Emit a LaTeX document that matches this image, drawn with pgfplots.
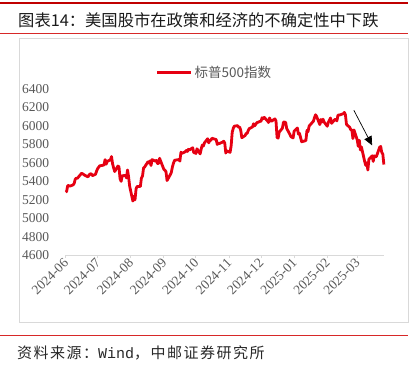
\documentclass[border=0pt]{standalone}
\usepackage{pgfplots}
\pgfplotsset{compat=1.18}
\usepackage{pgfplotstable}
\usepackage{fontspec}
\setmainfont{Liberation Serif}
\newfontfamily\cjk{Noto Sans CJK SC}
\newfontfamily\cjksrc[LetterSpace=10]{Noto Sans CJK SC}
\newfontfamily\monof{Liberation Mono}
\usetikzlibrary{arrows.meta}
\definecolor{spred}{RGB}{230,0,18}
\definecolor{tickgray}{RGB}{89,89,89}
\definecolor{framegray}{RGB}{217,217,217}
\definecolor{darkred}{RGB}{192,0,0}
\definecolor{midred}{RGB}{215,40,40}

\pgfplotstableread{
x y
0 5283.40
1 5291.34
2 5354.03
3 5352.96
4 5346.99
7 5360.79
8 5375.32
9 5421.03
10 5433.74
11 5431.60
14 5473.23
15 5487.03
17 5473.17
18 5464.62
21 5447.87
22 5469.30
23 5477.90
24 5482.87
25 5460.48
28 5475.09
29 5509.01
30 5537.02
32 5567.19
35 5572.85
36 5576.98
37 5633.91
38 5584.54
39 5615.35
42 5631.22
43 5667.20
44 5588.27
45 5544.59
46 5505.00
49 5564.41
50 5555.74
51 5427.13
52 5399.22
53 5459.10
56 5463.54
57 5436.44
58 5522.30
59 5446.68
60 5346.56
63 5186.33
64 5240.03
65 5199.50
66 5319.31
67 5344.16
70 5344.39
71 5434.43
72 5455.21
73 5543.22
74 5554.25
77 5608.25
78 5597.12
79 5620.85
80 5570.64
81 5634.61
84 5616.84
85 5625.80
86 5592.18
87 5591.96
88 5648.40
92 5528.93
93 5520.07
94 5503.41
95 5408.42
98 5471.05
99 5495.52
100 5554.13
101 5595.76
102 5626.02
105 5633.09
106 5634.58
107 5618.26
108 5713.64
109 5702.55
112 5718.57
113 5732.93
114 5722.26
115 5745.37
116 5738.17
119 5762.48
120 5708.75
121 5709.54
122 5699.94
123 5751.07
126 5695.94
127 5751.13
128 5792.04
129 5780.05
130 5815.03
133 5859.85
134 5815.26
135 5842.47
136 5841.47
137 5864.67
140 5853.98
141 5851.20
142 5797.42
143 5809.86
144 5808.12
147 5823.52
148 5832.92
149 5813.67
150 5705.45
151 5728.80
154 5712.69
155 5782.76
156 5929.04
157 5973.10
158 5995.54
161 6001.35
162 5983.99
163 5985.38
164 5949.17
165 5870.62
168 5893.62
169 5916.98
170 5917.11
171 5948.71
172 5969.34
175 5987.37
176 6021.63
177 5998.74
179 6032.38
182 6047.15
183 6049.88
184 6086.49
185 6075.11
186 6090.27
189 6052.85
190 6034.91
191 6084.19
192 6051.25
193 6051.09
196 6074.08
197 6050.61
198 5872.16
199 5867.08
200 5930.85
203 5974.07
204 6040.04
206 6037.59
207 5970.84
210 5906.94
211 5881.63
213 5868.55
214 5942.47
217 5975.38
218 5909.03
219 5918.25
221 5827.04
224 5836.22
225 5842.91
226 5949.91
227 5937.34
228 5996.66
232 6049.24
233 6086.37
234 6118.71
235 6101.24
238 6012.28
239 6067.70
240 6039.31
241 6071.17
242 6040.53
245 5994.57
246 6037.88
247 6061.48
248 6083.57
249 6025.99
252 6066.44
253 6068.50
254 6051.97
255 6115.07
256 6114.63
260 6129.58
261 6144.15
262 6117.52
263 6013.13
266 5983.25
267 5955.25
268 5956.06
269 5861.57
270 5954.50
273 5849.72
274 5778.15
275 5842.63
276 5738.52
277 5770.20
280 5614.56
281 5572.07
282 5599.30
283 5521.52
284 5638.94
287 5675.12
288 5614.66
289 5675.29
290 5662.89
291 5667.56
294 5767.57
295 5776.65
296 5712.20
297 5693.31
298 5580.94
}\spx

\begin{document}
\begin{tikzpicture}[x=1pt,y=1pt]
\useasboundingbox (0,0) rectangle (419,365);
\fill[white] (0,0) rectangle (419,365);
\draw[line width=2pt, darkred] (0,361.5) -- (408,361.5);
\node[anchor=west, inner sep=0, text={rgb,255:red,26;green,26;blue,26}, font=\cjk\fontsize{16.3}{18}\selectfont] at (18,345) {图表14：美国股市在政策和经济的不确定性中下跌};
\draw[line width=1.3pt, midred] (0,331.5) -- (408,331.5);
\draw[framegray, line width=0.8pt] (19.3,43) rectangle (408,326.7);
\begin{axis}[
  at={(61.4,118.5)}, anchor=south west,
  scale only axis, width=318.3pt, height=166.6pt,
  xmin=0, xmax=298, ymin=4600, ymax=6400,
  axis x line*=bottom, axis y line*=left,
  y axis line style={draw=none},
  x axis line style={framegray, line width=0.8pt},
  ytick style={draw=none},
  xtick style={framegray, line width=0.8pt},
  tick align=outside, major tick length=3pt,
  ytick={4600,4800,...,6400},
  yticklabel style={font=\fontsize{13.5}{14}\selectfont, text=tickgray, xshift=-10pt},
  /pgf/number format/assume math mode=true,
  /pgf/number format/1000 sep={},
  xtick={0,30,61,92,122,153,183,214,245,273},
  xticklabels={2024-06,2024-07,2024-08,2024-09,2024-10,2024-11,2024-12,2025-01,2025-02,2025-03},
  xticklabel style={rotate=45, anchor=east, font=\fontsize{13.5}{14}\selectfont, text=tickgray, xshift=2pt, yshift=-2pt},
  legend style={draw=none, fill=none, at={(axis description cs:0.4675,1.096)}, anchor=center,
    font=\cjk\fontsize{13.5}{15}\selectfont, text=tickgray},
  legend image code/.code={\draw[#1] (0pt,0pt) -- (34pt,0pt);},
  clip=false,
]
\addplot[spred, line width=2.8pt, line join=round] table[x=x,y=y]{\spx};
\addlegendentry{标普500指数}
\draw[black, line width=0.7pt, -{Triangle[length=9pt,width=8pt]}] (axis cs:269.9,6167) -- (axis cs:287,5788);
\end{axis}
\draw[line width=1.3pt, midred] (0,29.3) -- (408,29.3);
\node[anchor=west, inner sep=0, text={rgb,255:red,40;green,40;blue,40}, font=\fontsize{15}{17}\selectfont] at (17,12) {{\cjksrc 资料来源：}{\monof Wind}{\cjksrc ，中邮证券研究所}};
\end{tikzpicture}
\end{document}
